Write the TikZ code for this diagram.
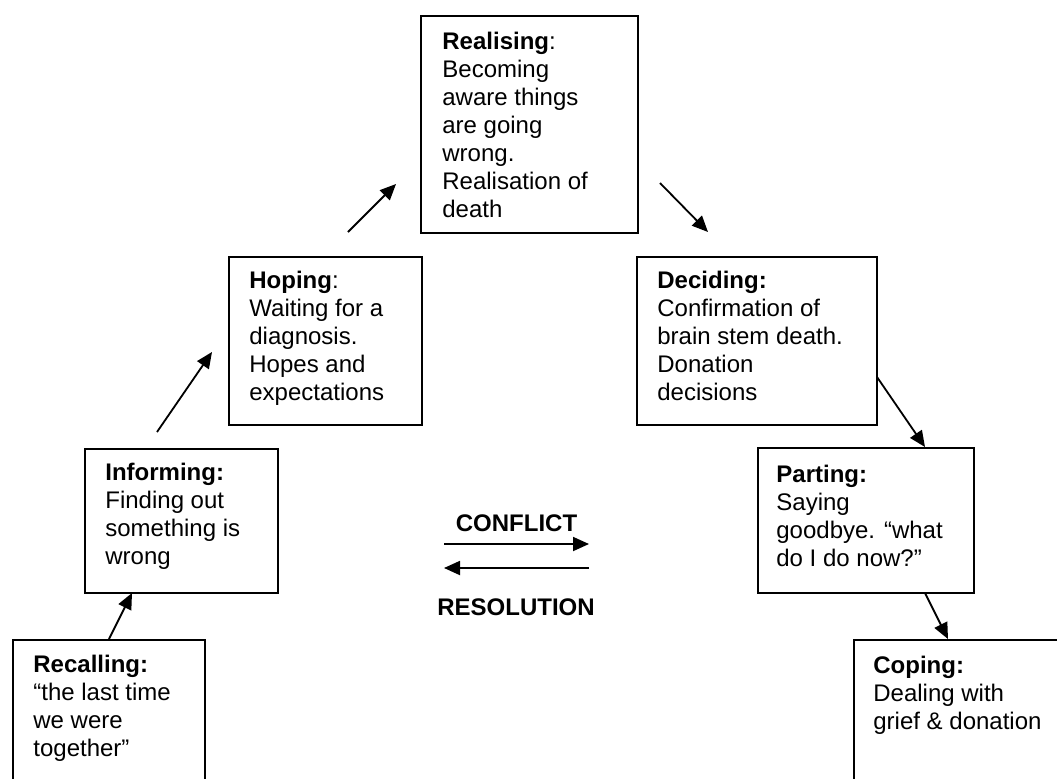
\documentclass[tikz,border=0pt]{standalone}
\usepackage{fontspec}
\setmainfont{Liberation Sans}
\usetikzlibrary{arrows.meta}
\newcommand{\stagetext}[1]{\begin{tabular}[t]{@{}l@{}}#1\end{tabular}}
\begin{document}
\begin{tikzpicture}[x=0.5pt,y=-0.5pt,
  box/.style={draw, line width=1pt, inner sep=0pt, anchor=north west},
  txt/.style={inner sep=0pt, anchor=base west, font=\fontsize{12pt}{14pt}\selectfont},
  arr/.style={line width=0.9pt, -{Triangle[length=8pt,width=7pt]}},
  lab/.style={font=\fontsize{12pt}{14pt}\selectfont\bfseries, inner sep=0pt, anchor=base}]
\clip (0,0) rectangle (1057,778);
% boxes
\node[box, minimum width=108.5pt, minimum height=108.5pt] (realising) at (420,15) {};
\node[box, minimum width=96.5pt, minimum height=84pt] (hoping) at (228,256) {};
\node[box, minimum width=120pt, minimum height=84pt] (deciding) at (636,256) {};
\node[box, minimum width=96.5pt, minimum height=72pt] (informing) at (84,448) {};
\node[box, minimum width=108pt, minimum height=72.5pt] (parting) at (757,447) {};
\node[box, minimum width=96pt, minimum height=100pt] (recalling) at (12,639) {};
\node[box, minimum width=125pt, minimum height=100pt] (coping) at (853,639) {};
% texts
\node[txt] (trealising) at (442,49) {\stagetext{\textbf{Realising}:\\Becoming\\aware things\\are going\\wrong.\\Realisation of\\death}};
\node[txt] (thoping) at (249,288) {\stagetext{\textbf{Hoping}:\\Waiting for a\\diagnosis.\\Hopes and\\expectations}};
\node[txt] (tdeciding) at (657,288) {\stagetext{\textbf{Deciding:}\\Confirmation of\\brain stem death.\\Donation\\decisions}};
\node[txt] (tinforming) at (105,480) {\stagetext{\textbf{Informing:}\\Finding out\\something is\\wrong}};
\node[txt] (tparting) at (776,482) {\stagetext{\textbf{Parting:}\\Saying\\goodbye. “what\\do I do now?”}};
\node[txt] (trecalling) at (33,672) {\stagetext{\textbf{Recalling:}\\“the last time\\we were\\together”}};
\node[txt] (tcoping) at (873,673) {\stagetext{\textbf{Coping:}\\Dealing with\\grief \& donation}};
\node[lab] (conflict) at (516.5,531) {CONFLICT};
\node[lab] (resolution) at (516,615) {RESOLUTION};
% arrow end points
\coordinate (a1s) at (109,639); \coordinate (a1e) at (132,593);
\coordinate (a2s) at (157,432); \coordinate (a2e) at (212,352);
\coordinate (a3s) at (348,232); \coordinate (a3e) at (396,184);
\coordinate (a4s) at (660,183); \coordinate (a4e) at (708,232);
\coordinate (a5s) at (877,377); \coordinate (a5e) at (925,447);
\coordinate (a6s) at (925,593); \coordinate (a6e) at (948,639);
\coordinate (c1s) at (444,544); \coordinate (c1e) at (589,544);
\coordinate (c2s) at (589,568); \coordinate (c2e) at (444,568);
\draw[arr] (a1s) -- (a1e);
\draw[arr] (a2s) -- (a2e);
\draw[arr] (a3s) -- (a3e);
\draw[arr] (a4s) -- (a4e);
\draw[arr] (a5s) -- (a5e);
\draw[arr] (a6s) -- (a6e);
\draw[arr] (c1s) -- (c1e);
\draw[arr] (c2s) -- (c2e);
\end{tikzpicture}
\end{document}
